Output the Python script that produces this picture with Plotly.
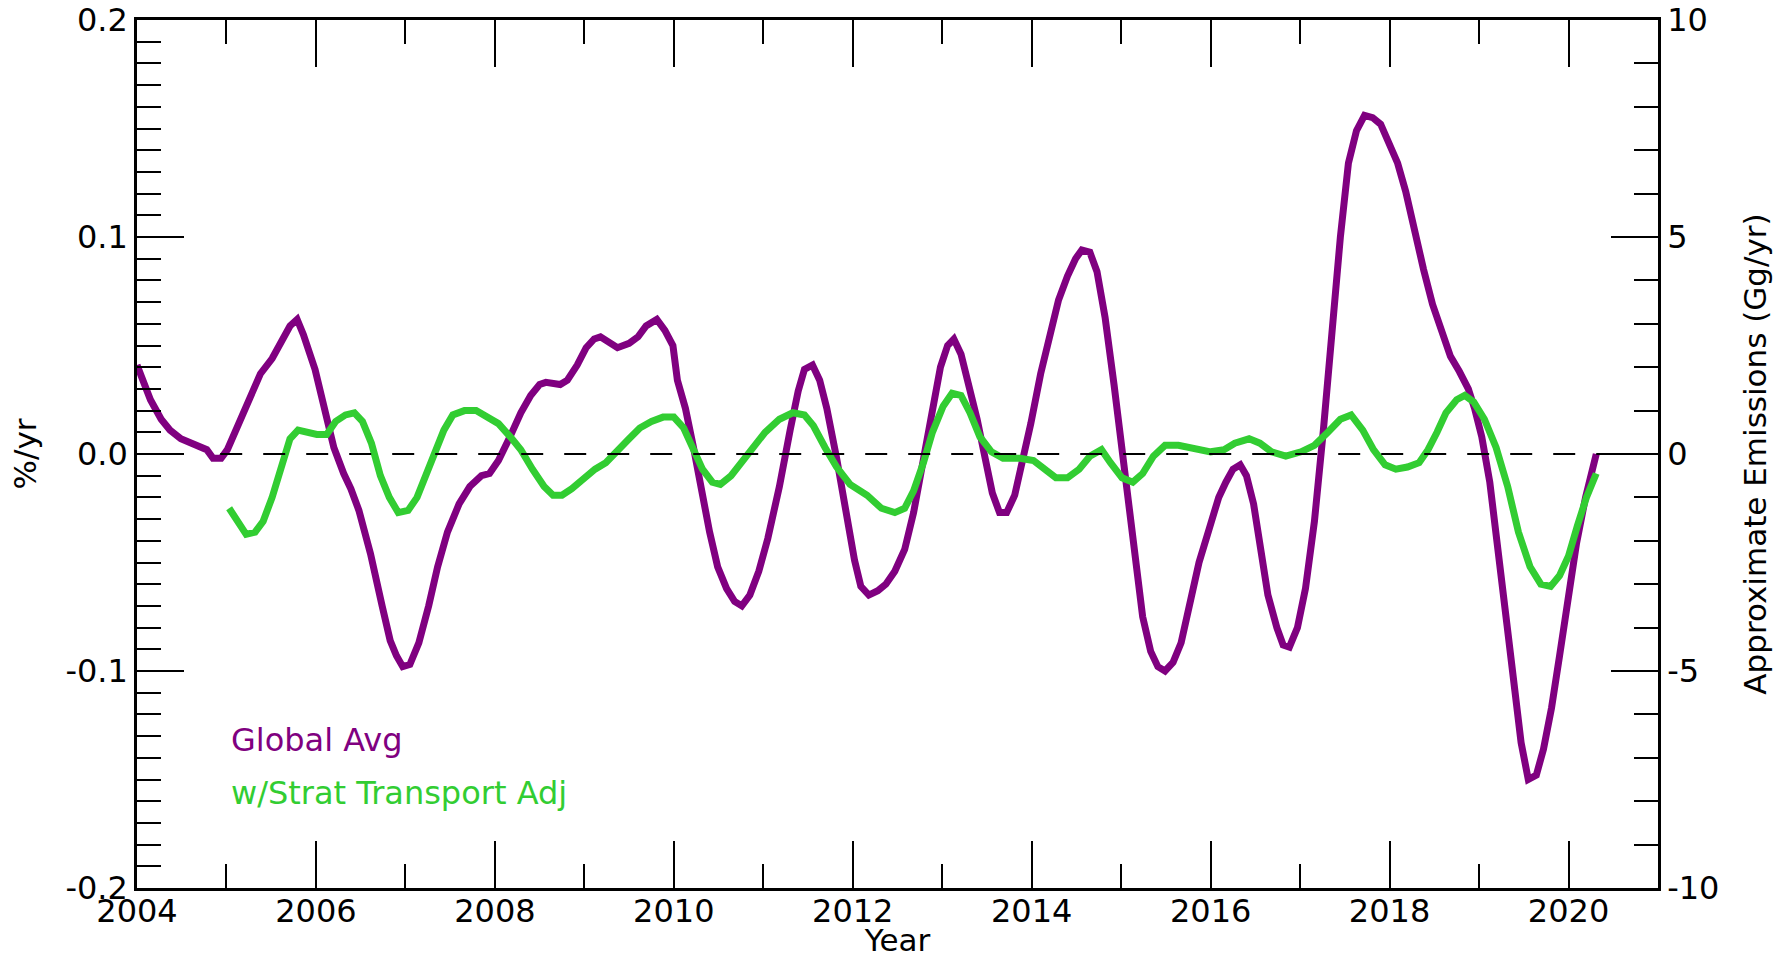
import plotly.graph_objects as go

# Global average growth rate (%/yr)
years_global = [
    2004.00, 2004.15, 2004.27, 2004.37, 2004.49, 2004.68, 2004.78, 2004.85, 2004.94,
    2005.01, 2005.15, 2005.29, 2005.38, 2005.51, 2005.62, 2005.71, 2005.79, 2005.86,
    2005.99, 2006.10, 2006.20, 2006.31, 2006.39, 2006.48, 2006.61, 2006.74, 2006.83,
    2006.90, 2006.97, 2007.05, 2007.15, 2007.26, 2007.36, 2007.47, 2007.60, 2007.72,
    2007.85, 2007.94, 2008.04, 2008.17, 2008.29, 2008.40, 2008.50, 2008.57, 2008.73,
    2008.81, 2008.92, 2009.02, 2009.11, 2009.18, 2009.37, 2009.50, 2009.60, 2009.69,
    2009.81, 2009.90, 2009.99, 2010.04, 2010.13, 2010.22, 2010.31, 2010.40, 2010.49,
    2010.59, 2010.68, 2010.76, 2010.85, 2010.95, 2011.05, 2011.18, 2011.30, 2011.39,
    2011.46, 2011.55, 2011.63, 2011.71, 2011.82, 2011.92, 2012.02, 2012.09, 2012.18,
    2012.28, 2012.37, 2012.47, 2012.58, 2012.68, 2012.79, 2012.89, 2012.98, 2013.06,
    2013.13, 2013.21, 2013.30, 2013.39, 2013.48, 2013.56, 2013.64, 2013.72, 2013.81,
    2013.89, 2013.99, 2014.10, 2014.20, 2014.30, 2014.40, 2014.49, 2014.56, 2014.65,
    2014.73, 2014.82, 2014.92, 2015.03, 2015.13, 2015.24, 2015.33, 2015.41, 2015.49,
    2015.58, 2015.67, 2015.77, 2015.87, 2015.98, 2016.09, 2016.17, 2016.25, 2016.33,
    2016.40, 2016.48, 2016.55, 2016.64, 2016.74, 2016.81, 2016.88, 2016.97, 2017.06,
    2017.16, 2017.26, 2017.35, 2017.45, 2017.54, 2017.63, 2017.72, 2017.81, 2017.90,
    2018.00, 2018.09, 2018.18, 2018.28, 2018.38, 2018.48, 2018.58, 2018.68, 2018.78,
    2018.88, 2018.95, 2019.03, 2019.12, 2019.21, 2019.31, 2019.40, 2019.47, 2019.55,
    2019.64, 2019.72, 2019.81, 2019.90, 2019.99, 2020.09, 2020.19, 2020.31,
]
global_avg = [
    0.041, 0.025, 0.016, 0.011, 0.007, 0.004, 0.002, -0.002, -0.002,
    0.002, 0.015, 0.029, 0.037, 0.044, 0.053, 0.059, 0.062, 0.055,
    0.039, 0.021, 0.003, -0.009, -0.016, -0.026, -0.046, -0.070, -0.086,
    -0.093, -0.098, -0.097, -0.087, -0.070, -0.052, -0.036, -0.023, -0.015,
    -0.010, -0.009, -0.003, 0.008, 0.019, 0.027, 0.032, 0.033, 0.032,
    0.034, 0.041, 0.049, 0.053, 0.054, 0.049, 0.051, 0.054, 0.059,
    0.062, 0.057, 0.050, 0.034, 0.021, 0.003, -0.018, -0.036, -0.052,
    -0.062, -0.068, -0.070, -0.065, -0.054, -0.039, -0.015, 0.011, 0.029,
    0.039, 0.041, 0.034, 0.021, -0.002, -0.026, -0.049, -0.061, -0.065,
    -0.063, -0.060, -0.054, -0.044, -0.027, -0.002, 0.024, 0.040, 0.050,
    0.053, 0.046, 0.032, 0.016, -0.002, -0.018, -0.027, -0.027, -0.019,
    -0.005, 0.014, 0.037, 0.055, 0.071, 0.082, 0.090, 0.094, 0.093,
    0.084, 0.063, 0.032, -0.005, -0.041, -0.075, -0.091, -0.098, -0.100,
    -0.096, -0.087, -0.070, -0.050, -0.035, -0.020, -0.013, -0.007, -0.005,
    -0.010, -0.023, -0.041, -0.065, -0.080, -0.088, -0.089, -0.080, -0.062,
    -0.031, 0.011, 0.055, 0.100, 0.134, 0.149, 0.156, 0.155, 0.152,
    0.143, 0.134, 0.121, 0.102, 0.085, 0.069, 0.056, 0.045, 0.038,
    0.030, 0.021, 0.008, -0.013, -0.041, -0.078, -0.109, -0.133, -0.150,
    -0.148, -0.136, -0.117, -0.093, -0.067, -0.041, -0.020, 0.000,
]

# Growth rate adjusted for stratospheric transport (%/yr)
years_strat = [
    2005.03, 2005.13, 2005.22, 2005.32, 2005.41, 2005.51, 2005.61, 2005.71, 2005.80,
    2005.91, 2006.01, 2006.12, 2006.22, 2006.33, 2006.43, 2006.52, 2006.62, 2006.72,
    2006.82, 2006.92, 2007.03, 2007.13, 2007.22, 2007.33, 2007.43, 2007.53, 2007.66,
    2007.79, 2007.91, 2008.04, 2008.17, 2008.29, 2008.42, 2008.55, 2008.65, 2008.75,
    2008.86, 2008.99, 2009.12, 2009.24, 2009.37, 2009.50, 2009.62, 2009.75, 2009.88,
    2010.00, 2010.11, 2010.22, 2010.32, 2010.43, 2010.52, 2010.64, 2010.76, 2010.89,
    2011.02, 2011.18, 2011.33, 2011.46, 2011.56, 2011.69, 2011.82, 2011.97, 2012.16,
    2012.32, 2012.47, 2012.58, 2012.68, 2012.79, 2012.89, 2013.01, 2013.11, 2013.21,
    2013.31, 2013.42, 2013.55, 2013.68, 2013.87, 2014.02, 2014.15, 2014.27, 2014.40,
    2014.53, 2014.65, 2014.78, 2014.88, 2015.01, 2015.13, 2015.24, 2015.36, 2015.49,
    2015.64, 2015.83, 2016.00, 2016.15, 2016.27, 2016.43, 2016.55, 2016.68, 2016.84,
    2017.01, 2017.16, 2017.31, 2017.45, 2017.57, 2017.70, 2017.82, 2017.95, 2018.07,
    2018.20, 2018.33, 2018.43, 2018.53, 2018.63, 2018.75, 2018.84, 2018.94, 2019.06,
    2019.19, 2019.32, 2019.44, 2019.57, 2019.69, 2019.80, 2019.90, 2020.00, 2020.10,
    2020.20, 2020.31,
]
strat_adj = [
    -0.025, -0.032, -0.037, -0.036, -0.031, -0.020, -0.006, 0.007, 0.011,
    0.010, 0.009, 0.009, 0.015, 0.018, 0.019, 0.015, 0.005, -0.010,
    -0.020, -0.027, -0.026, -0.020, -0.010, 0.002, 0.011, 0.018, 0.020,
    0.020, 0.017, 0.014, 0.008, 0.002, -0.007, -0.015, -0.019, -0.019,
    -0.016, -0.011, -0.007, -0.004, 0.002, 0.007, 0.012, 0.015, 0.017,
    0.017, 0.012, 0.002, -0.007, -0.013, -0.014, -0.010, -0.004, 0.003,
    0.010, 0.016, 0.019, 0.018, 0.013, 0.003, -0.006, -0.014, -0.019,
    -0.025, -0.027, -0.025, -0.017, -0.004, 0.010, 0.022, 0.028, 0.027,
    0.019, 0.008, 0.001, -0.002, -0.002, -0.003, -0.007, -0.011, -0.011,
    -0.007, -0.001, 0.002, -0.004, -0.011, -0.013, -0.009, -0.001, 0.004,
    0.004, 0.002, 0.001, 0.002, 0.005, 0.007, 0.005, 0.001, -0.001,
    0.001, 0.004, 0.010, 0.016, 0.018, 0.011, 0.002, -0.005, -0.007,
    -0.006, -0.004, 0.002, 0.010, 0.019, 0.025, 0.027, 0.024, 0.016,
    0.003, -0.015, -0.036, -0.052, -0.060, -0.061, -0.056, -0.047, -0.033,
    -0.020, -0.009,
]

# Axis tick values and labels
year_ticks = [2004, 2006, 2008, 2010, 2012, 2014, 2016, 2018, 2020]
rate_ticks = [-0.2, -0.1, 0.0, 0.1, 0.2]
rate_labels = ["-0.2", "-0.1", "0.0", "0.1", "0.2"]
emis_ticks = [-10, -5, 0, 5, 10]
emis_labels = ["-10", "-5", "0", "5", "10"]

PURPLE = "#800080"
GREEN = "#32CD32"
FONT = "DejaVu Sans"

fig = go.Figure()
fig.add_trace(go.Scatter(x=years_global, y=global_avg, mode="lines",
                         line=dict(color=PURPLE, width=7), name="Global Avg"))
fig.add_trace(go.Scatter(x=years_strat, y=strat_adj, mode="lines",
                         line=dict(color=GREEN, width=7), name="w/Strat Transport Adj"))
# empty trace so the emissions axis is drawn on the right
fig.add_trace(go.Scatter(x=[], y=[], yaxis="y2", showlegend=False, hoverinfo="skip"))

# zero reference line
fig.add_shape(type="line", xref="x", yref="y", x0=2004.93, x1=2021, y0=0, y1=0,
              line=dict(color="black", width=2.2, dash="22px,21px"), layer="above")

tickfont = dict(family=FONT, size=32, color="black")
titlefont = dict(family=FONT, size=31, color="black")
major = dict(ticks="inside", ticklen=47, tickwidth=2, tickcolor="black")

fig.update_layout(
    width=1777, height=958,
    margin=dict(l=137, r=119, t=20, b=70),
    paper_bgcolor="white", plot_bgcolor="white",
    showlegend=False,
    font=dict(family=FONT, color="black"),
    xaxis=dict(
        range=[2004, 2021], tickvals=year_ticks, **major,
        minor=dict(dtick=1, ticks="inside", ticklen=24, tickwidth=2, tickcolor="black"),
        showline=True, linewidth=2.5, linecolor="black", mirror="ticks",
        showgrid=False, zeroline=False, tickfont=tickfont, automargin=False,
        ticklabelstandoff=-7,
        title=dict(text="Year", font=titlefont, standoff=3),
    ),
    yaxis=dict(
        range=[-0.2, 0.2], tickvals=rate_ticks, ticktext=rate_labels, **major,
        minor=dict(dtick=0.01, ticks="inside", ticklen=24, tickwidth=2, tickcolor="black"),
        showline=True, linewidth=2.5, linecolor="black",
        showgrid=False, zeroline=False, tickfont=tickfont, automargin=False,
        title=dict(text="%/yr", font=titlefont, standoff=20),
    ),
    yaxis2=dict(
        range=[-10, 10], tickvals=emis_ticks, ticktext=emis_labels, overlaying="y", side="right",
        **major,
        minor=dict(dtick=1, ticks="inside", ticklen=24, tickwidth=2, tickcolor="black"),
        showline=True, linewidth=2.5, linecolor="black",
        showgrid=False, zeroline=False, tickfont=tickfont, automargin=False,
        title=dict(text="Approximate Emissions (Gg/yr)", font=titlefont, standoff=26),
    ),
    annotations=[
        dict(x=2005.03, y=-0.1316, xref="x", yref="y", text="Global Avg", showarrow=False,
             xanchor="left", yanchor="middle", font=dict(family=FONT, size=32, color=PURPLE)),
        dict(x=2005.03, y=-0.156, xref="x", yref="y", text="w/Strat Transport Adj", showarrow=False,
             xanchor="left", yanchor="middle", font=dict(family=FONT, size=32, color=GREEN)),
    ],
)

fig.write_html("out.html")
